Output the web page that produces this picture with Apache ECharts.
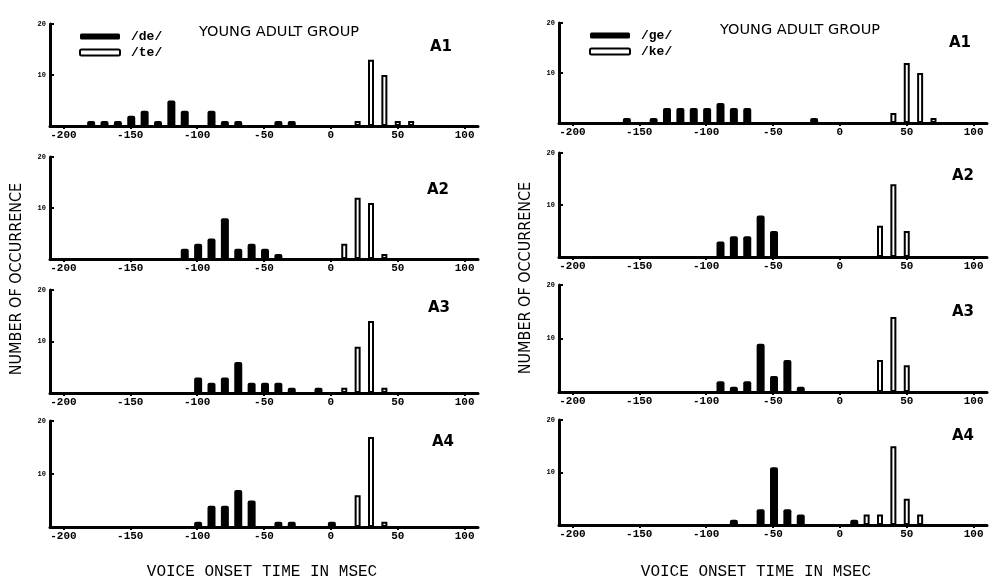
<!DOCTYPE html>
<html>
<head>
<meta charset="utf-8">
<script src="https://cdn.jsdelivr.net/npm/echarts@6/dist/echarts.min.js"></script>
<style>
  html, body { margin: 0; padding: 0; background: #fff; }
  #chart { width: 989px; height: 580px; }
</style>
</head>
<body>
<div id="chart"></div>
<script>
// tick labels
const xTicks = [-200, -150, -100, -50, 0, 50, 100];
const yTicks = [10, 20];

// voice onset time (msec) -> number of occurrences, left column (/de/ filled, /te/ open)
const deA1 = [[-180, 1], [-170, 1], [-160, 1], [-150, 2], [-140, 3], [-130, 1], [-120, 5], [-110, 3], [-90, 3], [-80, 1], [-70, 1], [-40, 1], [-30, 1]];
const teA1 = [[20, 1], [30, 13], [40, 10], [50, 1], [60, 1]];
const deA2 = [[-110, 2], [-100, 3], [-90, 4], [-80, 8], [-70, 2], [-60, 3], [-50, 2], [-40, 1]];
const teA2 = [[10, 3], [20, 12], [30, 11], [40, 1]];
const deA3 = [[-100, 3], [-90, 2], [-80, 3], [-70, 6], [-60, 2], [-50, 2], [-40, 2], [-30, 1], [-10, 1]];
const teA3 = [[10, 1], [20, 9], [30, 14], [40, 1]];
const deA4 = [[-100, 1], [-90, 4], [-80, 4], [-70, 7], [-60, 5], [-40, 1], [-30, 1], [0, 1]];
const teA4 = [[20, 6], [30, 17], [40, 1]];

// right column (/ge/ filled, /ke/ open)
const geA1 = [[-160, 1], [-140, 1], [-130, 3], [-120, 3], [-110, 3], [-100, 3], [-90, 4], [-80, 3], [-70, 3], [-20, 1]];
const keA1 = [[40, 2], [50, 12], [60, 10], [70, 1]];
const geA2 = [[-90, 3], [-80, 4], [-70, 4], [-60, 8], [-50, 5]];
const keA2 = [[30, 6], [40, 14], [50, 5]];
const geA3 = [[-90, 2], [-80, 1], [-70, 2], [-60, 9], [-50, 3], [-40, 6], [-30, 1]];
const keA3 = [[30, 6], [40, 14], [50, 5]];
const geA4 = [[-80, 1], [-60, 3], [-50, 11], [-40, 3], [-30, 2], [10, 1]];
const keA4 = [[20, 2], [30, 2], [40, 15], [50, 5], [60, 2]];

const panelNames = ['A1', 'A2', 'A3', 'A4'];

// layout: left edge, top (=20) and baseline (=0) of each panel
const panels = [
    { left: 50, top: 24, base: 126, voiced: ['/de/', deA1], voiceless: ['/te/', teA1] },
    { left: 50, top: 157, base: 259, voiced: ['/de/', deA2], voiceless: ['/te/', teA2] },
    { left: 50, top: 290, base: 393, voiced: ['/de/', deA3], voiceless: ['/te/', teA3] },
    { left: 50, top: 421, base: 527, voiced: ['/de/', deA4], voiceless: ['/te/', teA4] },
    { left: 559, top: 23, base: 123, voiced: ['/ge/', geA1], voiceless: ['/ke/', keA1] },
    { left: 559, top: 153, base: 257, voiced: ['/ge/', geA2], voiceless: ['/ke/', keA2] },
    { left: 559, top: 285, base: 392, voiced: ['/ge/', geA3], voiceless: ['/ke/', keA3] },
    { left: 559, top: 420, base: 525, voiced: ['/ge/', geA4], voiceless: ['/ke/', keA4] },
];
const labelPos = [[436, 42], [433, 185], [434, 303], [438, 437], [955, 38], [958, 171], [958, 307], [958, 431]];

const mono = '"Liberation Mono", "DejaVu Sans Mono", monospace';
const sans = '"DejaVu Sans", sans-serif';

const grids = [], xAxes = [], yAxes = [], series = [], titles = [];

panels.forEach((p, i) => {
    grids.push({ left: p.left, top: p.top, width: 428, height: p.base - p.top });
    xAxes.push({
        gridIndex: i, type: 'value', min: -210, max: 110,
        axisLine: { onZero: false, lineStyle: { color: '#000', width: 3 } },
        axisTick: { customValues: xTicks, length: 3, lineStyle: { color: '#000', width: 2 } },
        axisLabel: {
            customValues: xTicks, color: '#000', fontFamily: mono, fontWeight: 'bold',
            fontSize: 11, margin: 4
        },
        splitLine: { show: false }
    });
    yAxes.push({
        gridIndex: i, type: 'value', min: 0, max: 20, interval: 10,
        axisLine: { show: true, onZero: false, lineStyle: { color: '#000', width: 3 } },
        axisTick: { show: true, inside: true, length: 4, lineStyle: { color: '#000', width: 2 } },
        axisLabel: {
            color: '#000', fontFamily: mono, fontWeight: 'bold', fontSize: 7, margin: 4,
            formatter: v => (yTicks.includes(v) ? String(v) : '')
        },
        splitLine: { show: false }
    });
    series.push({
        name: p.voiced[0], type: 'bar', xAxisIndex: i, yAxisIndex: i,
        data: p.voiced[1], barWidth: 8, barGap: '-100%',
        itemStyle: { color: '#000', borderRadius: [2, 2, 0, 0] }
    });
    series.push({
        name: p.voiceless[0], type: 'bar', xAxisIndex: i, yAxisIndex: i,
        data: p.voiceless[1], barWidth: 6, barGap: '-100%',
        itemStyle: { color: '#fff', borderColor: '#000', borderWidth: 2 }
    });
    titles.push({
        text: panelNames[i % 4], left: labelPos[i][0], top: labelPos[i][1],
        textAlign: 'center', textVerticalAlign: 'middle',
        textStyle: { fontFamily: sans, fontWeight: 'bold', fontSize: 15, color: '#000' }
    });
});

titles.push({ text: 'YOUNG ADULT GROUP', left: 274, top: 27, textAlign: 'center', textVerticalAlign: 'middle',
    textStyle: { fontFamily: sans, fontWeight: 'normal', fontSize: 14.5, color: '#000' } });
titles.push({ text: 'YOUNG ADULT GROUP', left: 795, top: 25, textAlign: 'center', textVerticalAlign: 'middle',
    textStyle: { fontFamily: sans, fontWeight: 'normal', fontSize: 14.5, color: '#000' } });

const legendStyle = {
    orient: 'vertical', icon: 'roundRect', itemWidth: 40, itemHeight: 6, itemGap: 3,
    textStyle: { fontFamily: mono, fontWeight: 'bold', fontSize: 13, color: '#000', padding: [0, 0, 0, 6] }
};

const chart = echarts.init(document.getElementById('chart'));
chart.setOption({
    backgroundColor: '#fff',
    animation: false,
    title: titles,
    legend: [
        Object.assign({ data: ['/de/', '/te/'], left: 74, top: 25 }, legendStyle),
        Object.assign({ data: ['/ge/', '/ke/'], left: 584, top: 24 }, legendStyle)
    ],
    grid: grids,
    xAxis: xAxes,
    yAxis: yAxes,
    series: series,
    graphic: [
        { type: 'text', x: 17, y: 279, rotation: Math.PI / 2,
          style: { text: 'NUMBER OF OCCURRENCE', font: '16px "DejaVu Sans Condensed", sans-serif', fill: '#000', align: 'center', verticalAlign: 'middle' } },
        { type: 'text', x: 526, y: 278, rotation: Math.PI / 2,
          style: { text: 'NUMBER OF OCCURRENCE', font: '16px "DejaVu Sans Condensed", sans-serif', fill: '#000', align: 'center', verticalAlign: 'middle' } },
        { type: 'text', x: 262, y: 572,
          style: { text: 'VOICE ONSET TIME IN MSEC', font: '16px ' + mono, fill: '#000', align: 'center', verticalAlign: 'middle' } },
        { type: 'text', x: 756, y: 572,
          style: { text: 'VOICE ONSET TIME IN MSEC', font: '16px ' + mono, fill: '#000', align: 'center', verticalAlign: 'middle' } }
    ]
});
</script>
</body>
</html>
